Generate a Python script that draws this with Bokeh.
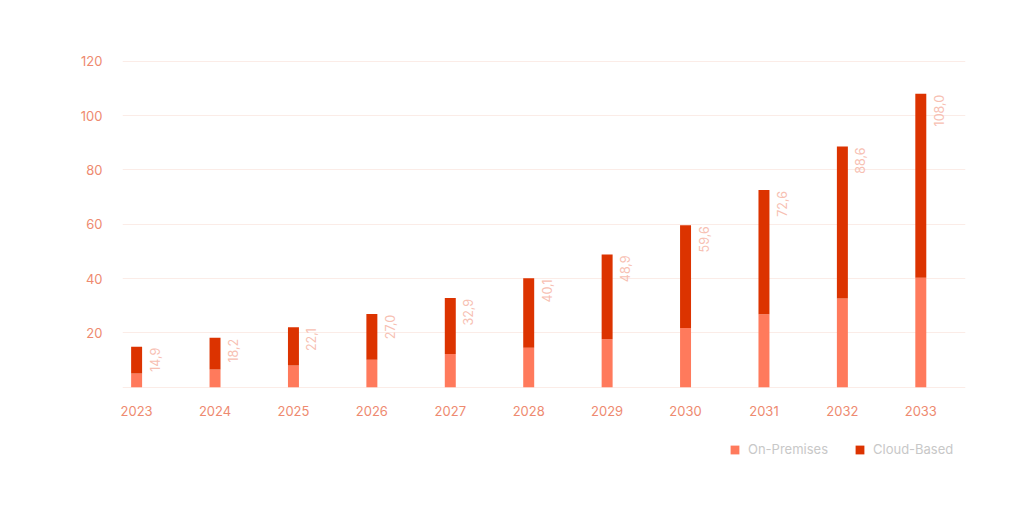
import math
from bokeh.plotting import figure
from bokeh.models import ColumnDataSource, FixedTicker, Legend, LegendItem, Range1d
from bokeh.embed import file_html
from bokeh.resources import INLINE
from bokeh.core.properties import value

years = ["2023", "2024", "2025", "2026", "2027", "2028", "2029", "2030", "2031", "2032", "2033"]
totals = [14.9, 18.2, 22.1, 27.0, 32.9, 40.1, 48.9, 59.6, 72.6, 88.6, 108.0]
on_premises = [5.1, 6.5, 8.0, 10.1, 12.2, 14.5, 17.7, 21.8, 26.9, 32.7, 40.3]
cloud_based = [round(t - o, 2) for t, o in zip(totals, on_premises)]
y_ticks = [20, 40, 60, 80, 100, 120]
grid_ticks = [0, 20, 40, 60, 80, 100, 120]

idx = list(range(len(years)))
src = ColumnDataSource(dict(
    x=idx,
    on=on_premises,
    cloud=cloud_based,
    total=totals,
    label=[f"{t:.1f}".replace(".", ",") for t in totals],
))

FONT = "Inter"
ON_COLOR = "#ff7a5c"
CLOUD_COLOR = "#dc3300"

p = figure(width=1010, height=502, output_backend="svg", toolbar_location=None,
           x_range=Range1d(-0.18, 10.57), y_range=Range1d(-31, 121),
           min_border_left=122, min_border_right=45, min_border_top=58, min_border_bottom=31)
p.outline_line_color = None
p.background_fill_color = "white"
p.border_fill_color = "white"

r = p.vbar_stack(["on", "cloud"], x="x", width=0.14, source=src,
                 color=[ON_COLOR, CLOUD_COLOR], line_color=None)

p.text(x="x", y="total", text="label", source=src, angle=math.pi / 2,
       x_offset=18, y_offset=1, text_align="right", text_baseline="middle",
       text_font=value(FONT), text_font_size="12.5px", text_color="#f7c0b2")

# axes
p.xaxis.ticker = FixedTicker(ticks=idx)
p.xaxis.major_label_overrides = {i: y for i, y in enumerate(years)}
p.yaxis.ticker = FixedTicker(ticks=y_ticks)
for ax in (p.xaxis[0], p.yaxis[0]):
    ax.axis_line_color = None
    ax.major_tick_line_color = None
    ax.minor_tick_line_color = None
    ax.major_label_text_font = FONT
    ax.major_label_text_font_size = "13px"
    ax.major_label_text_color = "#ee8a70"
    ax.major_label_text_font_style = "normal"
p.xaxis.major_label_standoff = -72
p.yaxis.major_label_standoff = 14

p.xgrid.grid_line_color = None
p.ygrid.ticker = FixedTicker(ticks=grid_ticks)
p.ygrid.grid_line_color = "#fbece7"
p.ygrid.grid_line_width = 1

legend = Legend(items=[LegendItem(label="On-Premises", renderers=[r[0]]),
                       LegendItem(label="Cloud-Based", renderers=[r[1]])],
                location=(607, 14), orientation="horizontal",
                glyph_width=11, glyph_height=11, label_height=11,
                label_standoff=8, spacing=26, padding=0, margin=0,
                border_line_color=None, background_fill_alpha=0,
                label_text_font=FONT, label_text_font_size="13px",
                label_text_color="#c8c8c8")
p.add_layout(legend, "center")

open("out.html", "w").write(file_html(p, INLINE))
